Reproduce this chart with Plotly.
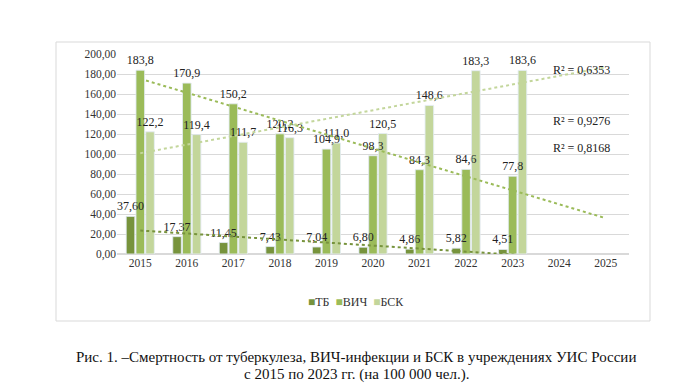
import numpy as np
import plotly.graph_objects as go

years = ["2015", "2016", "2017", "2018", "2019", "2020", "2021", "2022", "2023", "2024", "2025"]
data_years = years[:9]
tb = [37.60, 17.37, 11.45, 7.43, 7.04, 6.80, 4.86, 5.82, 4.51]
hiv = [183.8, 170.9, 150.2, 120.2, 104.9, 98.3, 84.3, 84.6, 77.8]
bsk = [122.2, 119.4, 111.7, 116.3, 111.0, 120.5, 148.6, 183.3, 183.6]
r2_labels = ["R² = 0,6353", "R² = 0,9276", "R² = 0,8168"]
series_names = ["ТБ", "ВИЧ", "БСК"]
caption1 = "Рис. 1. –Смертность от туберкулеза, ВИЧ-инфекции и БСК в учреждениях УИС России"
caption2 = "с 2015 по 2023 гг. (на 100 000 чел.)."

c_tb = "#77933C"
c_hiv = "#9BBB59"
c_bsk = "#C3D69B"
font_family = "Liberation Serif, Times New Roman, serif"

series = [(series_names[0], tb, c_tb, "%{y:.2f}"),
          (series_names[1], hiv, c_hiv, "%{y:.1f}"),
          (series_names[2], bsk, c_bsk, "%{y:.1f}")]

fig = go.Figure()
# real bars
for i, (name, vals, col, fmt) in enumerate(series):
    fig.add_trace(go.Bar(x=data_years, y=vals, name=name, marker_color=col,
                         offsetgroup=str(i), showlegend=False, hoverinfo="y"))
# transparent copies carrying the data labels, drawn on top of all bars
for i, (name, vals, col, fmt) in enumerate(series):
    fig.add_trace(go.Bar(x=data_years, y=vals, name=name, marker_color="rgba(0,0,0,0)",
                         offsetgroup=str(i), showlegend=False, hoverinfo="skip",
                         texttemplate=fmt, textposition="outside", constraintext="none",
                         cliponaxis=False,
                         textfont=dict(family=font_family, size=12, color="#222")))

# linear trendlines (Excel-style, forecast forward 2 periods)
xi = np.arange(len(data_years))
xall = np.arange(len(years))
for name, vals, col, fmt in series:
    k, b = np.polyfit(xi, vals, 1)
    fig.add_trace(go.Scatter(x=years, y=k * xall + b, mode="lines", showlegend=False,
                             line=dict(color=col, width=2, dash="dot"), hoverinfo="skip"))

fig.update_layout(
    width=700, height=387,
    margin=dict(l=117, r=71, t=54, b=133),
    paper_bgcolor="white", plot_bgcolor="white",
    barmode="group", bargap=0.37, bargroupgap=0.12,
    separators=", ",
    font=dict(family=font_family, size=11, color="#333"),
    showlegend=False,
    xaxis=dict(type="category", categoryorder="array", categoryarray=years,
               range=[-0.5, 10.5], showgrid=False, ticks="", showline=False,
               tickfont=dict(family=font_family, size=11.5, color="#333")),
    yaxis=dict(range=[0, 200], dtick=20, tickformat=".2f", showgrid=True,
               gridcolor="#D9D9D9", gridwidth=1, zeroline=True, zerolinecolor="#D9D9D9",
               ticks="", tickfont=dict(family=font_family, size=11.5, color="#333")),
)

fig.add_shape(type="rect", xref="paper", yref="paper",
              x0=(56 - 117) / 512, x1=(650 - 117) / 512,
              y0=(254 - 321) / 200, y1=(254 - 42) / 200,
              line=dict(color="#D9D9D9", width=1), layer="below")

for txt, yv in zip(r2_labels, [184, 133, 106]):
    fig.add_annotation(text=txt, xref="paper", yref="y", x=(581 - 117) / 512, y=yv,
                       showarrow=False, xanchor="center", yanchor="middle",
                       font=dict(family=font_family, size=12, color="#222"))

# legend as text
legend_txt = "&nbsp;&nbsp;".join(
    f'<span style="color:{col}">■</span>{name}' for name, vals, col, fmt in series)
fig.add_annotation(text=legend_txt, xref="paper", yref="paper", x=(356 - 117) / 512,
                   y=(254 - 302) / 200, showarrow=False, xanchor="center", yanchor="middle",
                   font=dict(family=font_family, size=12, color="#333"))

fig.add_annotation(text=caption1, xref="paper", yref="paper", x=(356 - 117) / 512,
                   y=(254 - 357) / 200, showarrow=False, xanchor="center", yanchor="middle",
                   font=dict(family=font_family, size=15, color="#111"))
fig.add_annotation(text=caption2, xref="paper", yref="paper", x=(356 - 117) / 512,
                   y=(254 - 374) / 200, showarrow=False, xanchor="center", yanchor="middle",
                   font=dict(family=font_family, size=15, color="#111"))

fig.write_html("out.html", config={"displayModeBar": False},
               post_script="document.body.style.margin='0';")
